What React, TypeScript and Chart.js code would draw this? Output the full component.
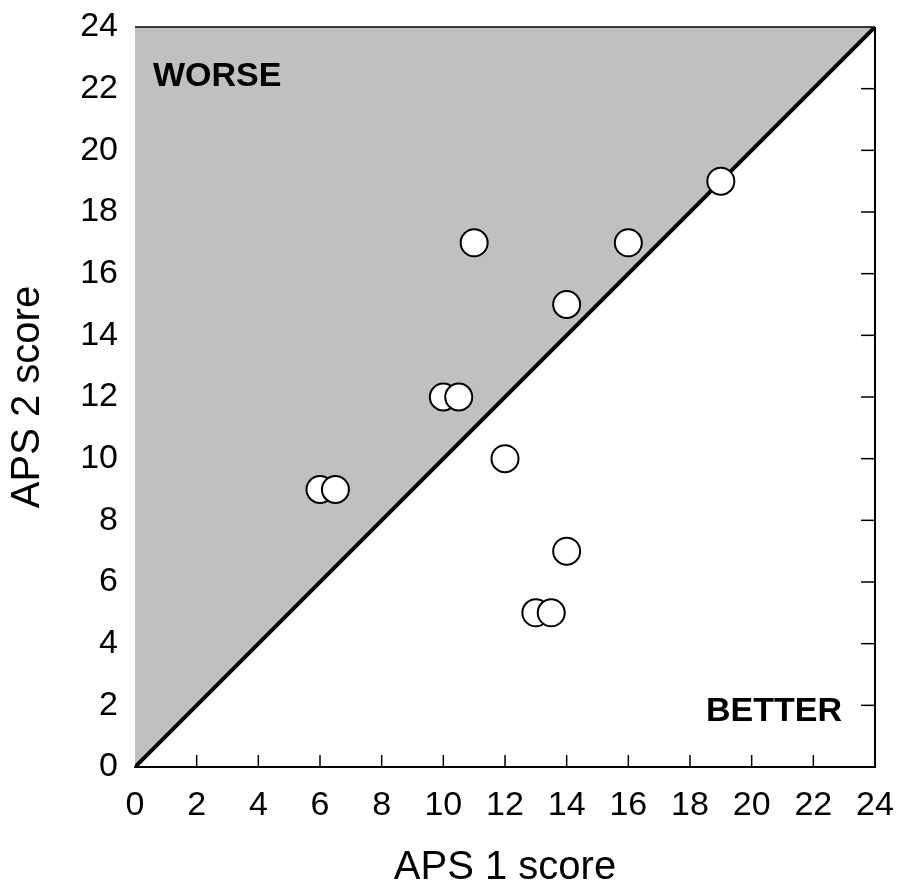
import React, { useEffect, useRef } from "react";
import { Chart, registerables } from "chart.js";

Chart.register(...registerables);

const aps1Scores = [6, 6.5, 10, 10.5, 11, 12, 13, 13.5, 14, 14, 16, 19];
const aps2Scores = [9, 9, 12, 12, 17, 10, 5, 5, 7, 15, 17, 19];
const diagonalX = [0, 24];
const diagonalY = [0, 24];
const axisMin = 0;
const axisMax = 24;
const tickStep = 2;
const regionLabels = ["WORSE", "BETTER"];
const regionLabelX = [0.58, 22.93];
const regionLabelY = [22.38, 1.78];

const FONT = "'Liberation Sans', Arial, Helvetica, sans-serif";

const framePlugin = {
  id: "frame",
  afterDatasetsDraw(chart: any) {
    const { ctx, chartArea, scales } = chart;
    const xs = scales.x;
    const ys = scales.y;
    ctx.save();
    ctx.strokeStyle = "#000";
    ctx.lineWidth = 1.5;
    ctx.beginPath();
    ctx.moveTo(chartArea.left, chartArea.top);
    ctx.lineTo(chartArea.right, chartArea.top);
    ctx.stroke();
    ctx.lineWidth = 2;
    ctx.beginPath();
    ctx.moveTo(chartArea.right, chartArea.top);
    ctx.lineTo(chartArea.right, chartArea.bottom);
    ctx.stroke();
    ctx.lineWidth = 1.5;
    for (let v = axisMin + tickStep; v < axisMax; v += tickStep) {
      const px = xs.getPixelForValue(v);
      ctx.beginPath();
      ctx.moveTo(px, chartArea.bottom);
      ctx.lineTo(px, chartArea.bottom - 12);
      ctx.stroke();
      const py = ys.getPixelForValue(v);
      ctx.beginPath();
      ctx.moveTo(chartArea.right, py);
      ctx.lineTo(chartArea.right - 14, py);
      ctx.stroke();
    }
    ctx.fillStyle = "#000";
    ctx.font = `bold 34px ${FONT}`;
    ctx.textBaseline = "middle";
    regionLabels.forEach((t, i) => {
      ctx.textAlign = i === 0 ? "left" : "right";
      ctx.fillText(t, xs.getPixelForValue(regionLabelX[i]), ys.getPixelForValue(regionLabelY[i]));
    });
    ctx.restore();
  },
};

export default function App() {
  const ref = useRef<HTMLCanvasElement>(null);
  useEffect(() => {
    if (!ref.current) return;
    const chart = new Chart(ref.current, {
      type: "scatter",
      data: {
        datasets: [
          {
            type: "line",
            data: diagonalX.map((x, i) => ({ x, y: diagonalY[i] })),
            fill: "end",
            backgroundColor: "#c0c0c0",
            borderColor: "#000",
            borderWidth: 4,
            pointRadius: 0,
            order: 2,
          } as any,
          {
            data: aps1Scores.map((x, i) => ({ x, y: aps2Scores[i] })),
            backgroundColor: "#fff",
            borderColor: "#000",
            borderWidth: 2,
            pointRadius: 13.5,
            order: 1,
            clip: false,
          } as any,
        ],
      },
      plugins: [framePlugin],
      options: {
        animation: false,
        responsive: false,
        events: [],
        layout: { padding: { top: 27, right: 22, left: 0, bottom: 0 } },
        plugins: { legend: { display: false }, tooltip: { enabled: false } },
        scales: {
          x: {
            type: "linear",
            min: axisMin,
            max: axisMax,
            afterFit: (s: any) => {
              s.height = 125;
              s.paddingLeft = 0;
              s.paddingRight = 0;
            },
            ticks: {
              stepSize: tickStep,
              color: "#000",
              font: { family: FONT, size: 34 },
              padding: 10,
              maxRotation: 0,
              autoSkip: false,
            },
            grid: { display: false },
            border: { display: true, color: "#000", width: 2 },
            title: {
              display: true,
              text: "APS 1 score",
              color: "#000",
              font: { family: FONT, size: 40 },
              padding: { top: 0, bottom: 0 },
            },
          },
          y: {
            type: "linear",
            min: axisMin,
            max: axisMax,
            afterFit: (s: any) => {
              s.width = 135;
              s.paddingTop = 0;
              s.paddingBottom = 0;
            },
            ticks: {
              stepSize: tickStep,
              color: "#000",
              font: { family: FONT, size: 34 },
              padding: 9,
              autoSkip: false,
            },
            grid: { display: false },
            border: { display: false },
            title: {
              display: true,
              text: "APS 2 score",
              color: "#000",
              font: { family: FONT, size: 40 },
              padding: { top: 4, bottom: 0 },
            },
          },
        },
      } as any,
    });
    return () => chart.destroy();
  }, []);
  return (
    <div style={{ position: "absolute", left: 0, top: 0, width: 897, height: 892, background: "#fff" }}>
      <canvas ref={ref} width={897} height={892} style={{ width: 897, height: 892 }} />
    </div>
  );
}
